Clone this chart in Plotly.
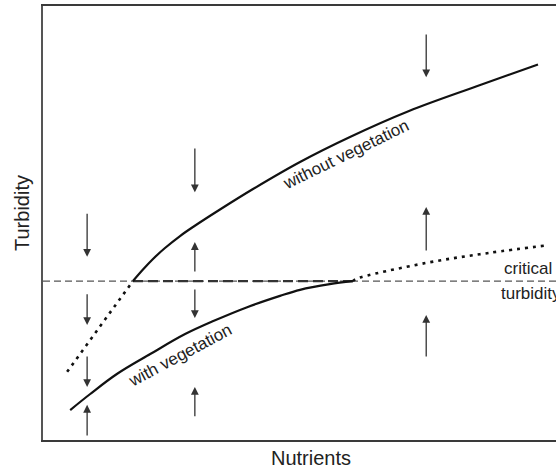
import plotly.graph_objects as go

# ---- data (arbitrary units: Nutrients 0-100, Turbidity 0-100) ----
critical_turbidity = 36.6

without_veg_x = [17.54, 19.49, 21.44, 23.78, 26.71, 29.24, 34.50, 40.94, 50.10, 59.84, 71.35, 84.41, 96.49]
without_veg_y = [36.64, 39.29, 41.71, 44.24, 47.00, 49.08, 53.11, 57.83, 64.06, 69.82, 75.81, 81.45, 86.52]

without_veg_unstable_x = [4.7, 11.1, 17.54]
without_veg_unstable_y = [15.7, 26.0, 36.64]

with_veg_x = [5.3, 9.2, 14.4, 20.9, 27.7, 33.2, 39.8, 46.2, 50.1, 55.9, 60.4]
with_veg_y = [6.9, 10.6, 15.2, 19.8, 24.4, 27.4, 30.6, 33.2, 34.6, 35.9, 36.6]

with_veg_unstable_x = [60.4, 61.0, 74.7, 86.9, 98.6]
with_veg_unstable_y = [36.6, 37.1, 40.8, 43.1, 44.9]

bistable_x = [17.54, 60.4]

# arrows: x position, tail y, head y
arrow_x = [8.6, 8.6, 8.6, 8.6, 29.6, 29.6, 29.6, 29.6, 74.7, 74.7, 74.7]
arrow_tail = [52.5, 33.9, 19.6, 0.7, 67.5, 38.5, 35.0, 5.1, 93.8, 43.3, 18.9]
arrow_head = [42.2, 26.5, 12.2, 8.1, 57.1, 45.6, 28.1, 12.2, 83.6, 53.7, 28.8]

x_title = "Nutrients"
y_title = "Turbidity"
label_without = "without vegetation"
label_with = "with vegetation"

fig = go.Figure()

# thin critical turbidity line across the whole plot
fig.add_trace(go.Scatter(x=[0, 100], y=[critical_turbidity] * 2, mode="lines",
                         line=dict(color="#555555", width=1.1, dash="7px,4px"),
                         hoverinfo="skip"))
# bold dashed bistable segment
fig.add_trace(go.Scatter(x=bistable_x, y=[critical_turbidity] * 2, mode="lines",
                         line=dict(color="#333333", width=2.4, dash="10px,5px"),
                         hoverinfo="skip"))
# dotted unstable parts
fig.add_trace(go.Scatter(x=without_veg_unstable_x, y=without_veg_unstable_y, mode="lines",
                         line=dict(color="#111111", width=2.6, dash="3px,5px"),
                         hoverinfo="skip"))
fig.add_trace(go.Scatter(x=with_veg_unstable_x, y=with_veg_unstable_y, mode="lines",
                         line=dict(color="#111111", width=2.6, dash="3px,5px", shape="spline"),
                         hoverinfo="skip"))
# solid curves
fig.add_trace(go.Scatter(x=without_veg_x, y=without_veg_y, mode="lines",
                         line=dict(color="#111111", width=2.2, shape="spline", smoothing=1),
                         hoverinfo="skip"))
fig.add_trace(go.Scatter(x=with_veg_x, y=with_veg_y, mode="lines",
                         line=dict(color="#111111", width=2.2, shape="spline", smoothing=1),
                         hoverinfo="skip"))

annotations = []
for ax_, t, h in zip(arrow_x, arrow_tail, arrow_head):
    annotations.append(dict(x=ax_, y=h, ax=ax_, ay=t, xref="x", yref="y",
                            axref="x", ayref="y", showarrow=True, text="",
                            arrowhead=2, arrowsize=1.2, arrowwidth=1.3,
                            arrowcolor="#333333", standoff=0, startstandoff=0))

txt_font = dict(family="Arial, Liberation Sans, sans-serif", size=17, color="#222222")
title_font = dict(family="Arial, Liberation Sans, sans-serif", size=20, color="#222222")
annotations += [
    dict(x=59.1, y=65.7, xref="x", yref="y", text=label_without, showarrow=False,
         textangle=-26, font=txt_font),
    dict(x=26.7, y=19.4, xref="x", yref="y", text=label_with, showarrow=False,
         textangle=-28, font=txt_font),
    dict(x=0.997, y=0.395, xref="paper", yref="paper", text="critical", showarrow=False,
         xanchor="right", yanchor="middle", font=txt_font),
    dict(x=0.889, y=0.337, xref="paper", yref="paper", text="turbidity", showarrow=False,
         xanchor="left", yanchor="middle", font=txt_font),
    dict(x=0.522, y=-0.041, xref="paper", yref="paper", text=x_title, showarrow=False,
         xanchor="center", yanchor="middle", font=title_font),
    dict(x=-0.041, y=0.523, xref="paper", yref="paper", text=y_title, showarrow=False,
         textangle=-90, xanchor="center", yanchor="middle", font=title_font),
]

fig.update_layout(
    width=556, height=470,
    margin=dict(l=43, r=0, t=6, b=30),
    paper_bgcolor="white", plot_bgcolor="white",
    showlegend=False,
    annotations=annotations,
    xaxis=dict(range=[0, 100], showgrid=False, zeroline=False, showticklabels=False,
               ticks="", showline=True, mirror=True, linecolor="#3a3a3a", linewidth=2),
    yaxis=dict(range=[0, 100], showgrid=False, zeroline=False, showticklabels=False,
               ticks="", showline=True, mirror=False, linecolor="#555555", linewidth=2),
)

fig.write_html("out.html", config={"displayModeBar": False},
               post_script="document.body.style.margin='0';document.body.style.overflow='hidden';")
